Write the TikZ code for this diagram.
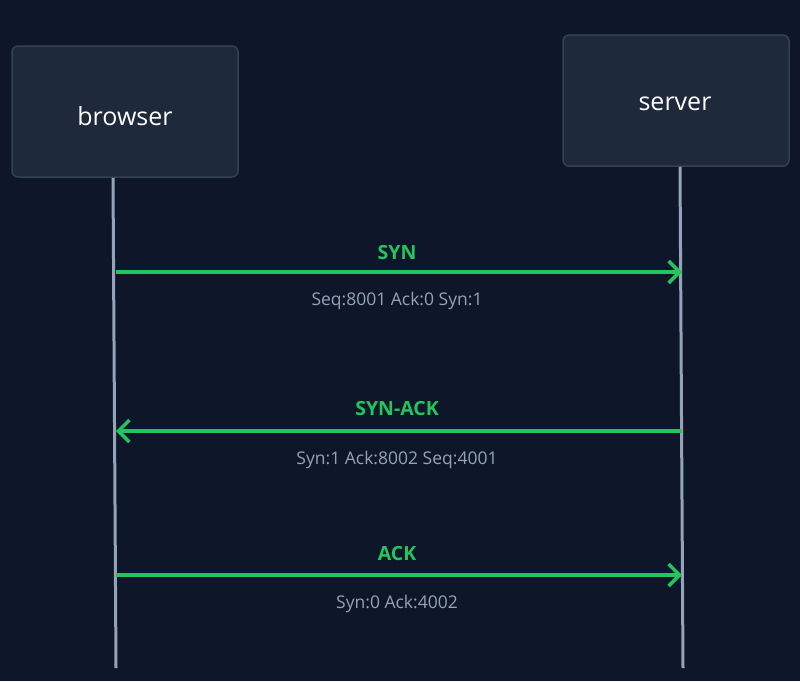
\documentclass[tikz,border=0pt]{standalone}
\usepackage{fontspec}
\setmainfont{Open Sans}
\usetikzlibrary{arrows.meta}
\definecolor{bg}{HTML}{0E1729}
\definecolor{boxf}{HTML}{1E293B}
\definecolor{boxd}{HTML}{334155}
\definecolor{life}{HTML}{94A3B8}
\definecolor{grn}{HTML}{22C55E}
\tikzset{
 actor/.style={draw=boxd,line width=1.5pt,fill=boxf,rounded corners=6pt,minimum width=226pt,minimum height=131pt,text=white,font=\fontsize{25}{30}\selectfont},
 lifeline/.style={draw=life,line width=3pt},
 msg/.style={draw=grn,line width=3.5pt,-{Straight Barb[length=11pt,width=22pt,line width=3.5pt]}},
 mlab/.style={text=grn,font=\bfseries\fontsize{19.5}{23}\selectfont},
 sub/.style={text=life,font=\fontsize{17.5}{21}\selectfont}
}
\begin{document}
\begin{tikzpicture}[x=1pt,y=-1pt]
\fill[bg] (0,0) rectangle (800,681);
\useasboundingbox (0,0) rectangle (800,681);
\node[actor] (b) at (125,111.5) {};
\node[actor] (s) at (676,100.5) {};
\node[text=white,font=\fontsize{25}{30}\selectfont] (bl) at (125,116) {browser};
\node[text=white,font=\fontsize{25}{30}\selectfont] (sl) at (675,104) {server};
\coordinate (be) at (116,668);
\coordinate (se) at (683,668);
\draw[lifeline] (b.south -| 113,0) -- (be);
\draw[lifeline] (s.south -| 680,0) -- (se);
\coordinate (b1) at (116,272); \coordinate (s1) at (682,272);
\coordinate (b2) at (116,431); \coordinate (s2) at (682,431);
\coordinate (b3) at (116,575); \coordinate (s3) at (682,575);
\draw[msg] (b1) -- (s1);
\draw[msg] (s2) -- (b2);
\draw[msg] (b3) -- (s3);
\node[mlab] (l1) at (397,253) {SYN};
\node[sub] (t1) at (397,301) {Seq:8001 Ack:0 Syn:1};
\node[mlab] (l2) at (397,409) {SYN-ACK};
\node[sub] (t2) at (397,460) {Syn:1 Ack:8002 Seq:4001};
\node[mlab] (l3) at (397,554) {ACK};
\node[sub] (t3) at (397,604) {Syn:0 Ack:4002};
\end{tikzpicture}
\end{document}
